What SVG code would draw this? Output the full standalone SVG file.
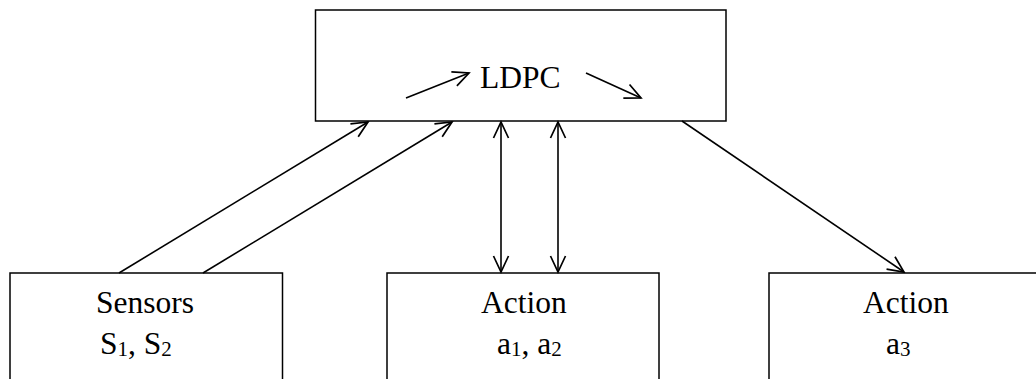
<svg xmlns="http://www.w3.org/2000/svg" width="1036" height="379" viewBox="0 0 1036 379">
  <style>
    .box { fill: #fff; stroke: #000; stroke-width: 1.5; }
    .lbl { font-family: "Liberation Serif", "Times New Roman", serif; font-size: 31.5px; fill: #000; }
    .sub { font-size: 21px; }
    .edge { fill: none; stroke: #000; stroke-width: 1.6; }
  </style>
  <defs>
    <!-- open V arrowhead, fixed size regardless of stroke width -->
    <marker id="head" viewBox="-18 -9 20 18" refX="0" refY="0" markerWidth="20" markerHeight="18" markerUnits="userSpaceOnUse" orient="auto-start-reverse">
      <path d="M-16,-7.5 L0,0 L-16,7.5" fill="none" stroke="#000" stroke-width="1.7"/>
    </marker>
  </defs>

  <g id="ldpc">
    <rect class="box" x="315.5" y="10" width="410.5" height="111"/>
    <text class="lbl" x="480" y="88" font-size="32">LDPC</text>
    <line class="edge" x1="406" y1="98" x2="469" y2="73" marker-end="url(#head)"/>
    <line class="edge" x1="586" y1="73" x2="641" y2="98" marker-end="url(#head)"/>
  </g>

  <g id="sensors">
    <rect class="box" x="10" y="273" width="272.5" height="130"/>
    <text class="lbl" x="96" y="313">Sensors</text>
    <text class="lbl" x="100" y="354">S<tspan class="sub" dy="2">1</tspan><tspan dy="-2">, S</tspan><tspan class="sub" dy="2">2</tspan></text>
  </g>

  <g id="action12">
    <rect class="box" x="387" y="273" width="272" height="130"/>
    <text class="lbl" x="481" y="313">Action</text>
    <text class="lbl" x="497" y="354">a<tspan class="sub" dy="2">1</tspan><tspan dy="-2">, a</tspan><tspan class="sub" dy="2">2</tspan></text>
  </g>

  <g id="action3">
    <rect class="box" x="769" y="273" width="400" height="130"/>
    <text class="lbl" x="863" y="313">Action</text>
    <text class="lbl" x="886" y="354">a<tspan class="sub" dy="2">3</tspan></text>
  </g>

  <g id="connectors">
    <line class="edge" x1="119" y1="273" x2="368" y2="122" marker-end="url(#head)"/>
    <line class="edge" x1="203" y1="273" x2="452" y2="122" marker-end="url(#head)"/>
    <line class="edge" x1="501" y1="122" x2="501" y2="272" marker-start="url(#head)" marker-end="url(#head)"/>
    <line class="edge" x1="558" y1="122" x2="558" y2="272" marker-start="url(#head)" marker-end="url(#head)"/>
    <line class="edge" x1="682" y1="121" x2="904" y2="272" marker-end="url(#head)"/>
  </g>
</svg>
